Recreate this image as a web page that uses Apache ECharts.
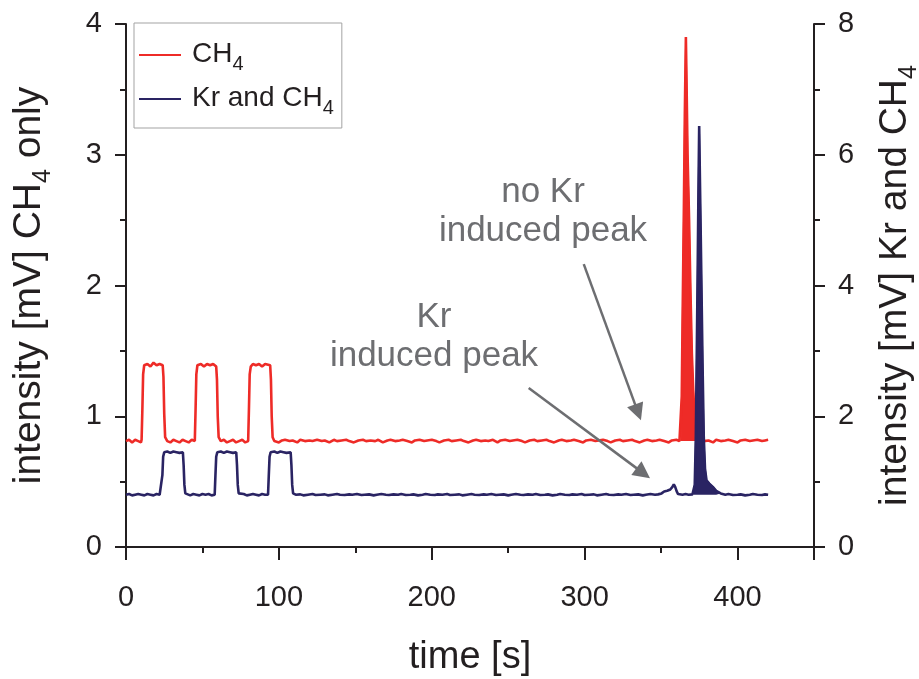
<!DOCTYPE html>
<html><head><meta charset="utf-8">
<script src="https://cdn.jsdelivr.net/npm/echarts@6/dist/echarts.min.js"></script>
<style>html,body{margin:0;padding:0;background:#fff}#c{width:919px;height:679px}</style>
</head><body><div id="c"></div>
<script>
// ---------- data (time [s], intensity [mV]) ----------
const seriesNames = ['CH4', 'Kr and CH4'];
const xTickValues = [0, 100, 200, 300, 400];
const leftTickValues = [0, 1, 2, 3, 4];
const rightTickValues = [0, 2, 4, 6, 8];

// CH4 only (left axis)
const redBefore = [
 [0,0.81],[2,0.82],[4,0.80],[6,0.82],[8,0.81],[9.8,0.80],[10.2,0.82],
 [10.7,1.05],[11.2,1.32],[11.9,1.39],[14,1.40],[16,1.38],[18,1.41],[20,1.39],[22,1.40],[24.0,1.39],
 [24.5,1.30],[25.0,1.02],[25.6,0.84],[27,0.81],[29,0.80],[31,0.82],[33,0.81],[35,0.80],[37,0.82],[39,0.81],[41,0.80],[43,0.82],[45.0,0.81],
 [45.5,1.05],[46.0,1.32],[46.7,1.39],[49,1.40],[51,1.38],[53,1.40],[55,1.39],[57,1.40],[59.0,1.38],
 [59.5,1.28],[60.0,1.00],[60.6,0.84],[62,0.81],[64,0.82],[66,0.80],[68,0.81],[70,0.82],[72,0.80],[74,0.81],[76,0.82],[78,0.80],[79.9,0.81],
 [80.4,1.05],[80.9,1.32],[81.6,1.38],[83,1.40],[85,1.39],[87,1.40],[89,1.38],[91,1.40],[94.3,1.39],
 [94.8,1.28],[95.3,1.00],[95.9,0.84],[97,0.81],[100,0.80],
 [102,0.815],[104,0.82],[107,0.81],[109,0.815],[112,0.80],[114,0.82],[117,0.81],[120,0.815],[122,0.81],[125,0.82],
 [128,0.81],[130,0.815],[133,0.80],[136,0.82],[138,0.81],[141,0.815],[144,0.82],[146,0.81],[149,0.80],[152,0.815],
 [155,0.82],[157,0.81],[160,0.815],[163,0.81],[165,0.82],[168,0.80],[171,0.815],[173,0.82],[176,0.81],[179,0.815],
 [181,0.82],[184,0.81],[187,0.80],[189,0.815],[192,0.82],[195,0.81],[197,0.815],[200,0.82],[203,0.81],[205,0.80],
 [208,0.815],[211,0.82],[213,0.81],[216,0.815],[219,0.82],[221,0.81],[224,0.80],[227,0.815],[229,0.82],[232,0.81],
 [235,0.815],[237,0.81],[240,0.82],[243,0.80],[245,0.815],[248,0.82],[251,0.81],[253,0.815],[256,0.82],[259,0.81],
 [261,0.80],[264,0.815],[267,0.82],[269,0.81],[272,0.815],[275,0.82],[277,0.81],[280,0.80],[283,0.815],[285,0.82],
 [288,0.81],[291,0.815],[293,0.82],[296,0.81],[299,0.80],[301,0.815],[304,0.82],[307,0.81],[309,0.815],[312,0.82],
 [315,0.81],[317,0.80],[320,0.815],[323,0.82],[325,0.81],[328,0.815],[331,0.82],[333,0.81],[336,0.80],[339,0.815],
 [341,0.82],[344,0.81],[347,0.815],[349,0.82],[352,0.81],[355,0.80],[357,0.815],[360,0.82],[362,0.81]
];
const redPeak = [
 [363.0,0.81],[363.5,1.15],[364.0,1.70],[364.5,2.20],[364.9,2.60],[365.5,3.30],[366.2,3.90],
 [366.7,3.50],[367.3,3.00],[367.8,2.75],[368.3,2.50],[369.2,1.95],[370.1,1.48],[371.0,1.20],
 [372.0,0.98],[373.2,0.84],[374.2,0.81]
];
const redAfter = [
 [376,0.82],[378,0.81],[381,0.815],[384,0.80],[386,0.82],[389,0.81],[392,0.815],[394,0.82],[397,0.81],[400,0.80],
 [402,0.815],[405,0.82],[408,0.81],[410,0.815],[413,0.82],[416,0.81],[418,0.815],[420,0.82]
];

// Kr and CH4 (right axis)
const blueBefore = [
 [0,0.80],[2,0.81],[4,0.79],[6,0.80],[8,0.81],[10,0.80],[12,0.79],[14,0.81],[16,0.80],[18,0.79],[20,0.81],[22,0.80],[23.3,0.81],
 [23.8,1.10],[24.3,1.38],[25,1.45],[27,1.46],[29,1.44],[31,1.46],[33,1.45],[35,1.44],[37.2,1.45],
 [37.7,1.25],[38.2,0.95],[38.8,0.82],[40,0.80],[42,0.79],[44,0.81],[46,0.80],[48,0.79],[50,0.81],[52,0.80],[54,0.81],[56,0.79],[58.0,0.80],
 [58.5,1.10],[59.0,1.38],[59.7,1.45],[62,1.46],[64,1.44],[66,1.46],[68,1.45],[70,1.44],[72.1,1.45],
 [72.6,1.25],[73.1,0.95],[73.7,0.82],[75,0.80],[77,0.81],[79,0.79],[81,0.80],[83,0.81],[85,0.80],[87,0.79],[89,0.81],[91,0.80],[92.9,0.80],
 [93.4,1.10],[93.9,1.38],[94.6,1.45],[97,1.46],[99,1.44],[101,1.46],[103,1.45],[105,1.44],[107.7,1.45],
 [108.2,1.25],[108.7,0.95],[109.3,0.82],[111,0.80],
 [114,0.805],[116,0.79],[119,0.80],[122,0.81],[124,0.795],[127,0.80],[130,0.805],[132,0.79],[135,0.80],[138,0.81],
 [140,0.80],[143,0.795],[146,0.805],[148,0.80],[151,0.81],[154,0.795],[156,0.80],[159,0.805],[162,0.79],[164,0.80],
 [167,0.81],[170,0.80],[172,0.795],[175,0.805],[178,0.80],[180,0.81],[183,0.795],[186,0.80],[188,0.805],[191,0.79],
 [194,0.80],[196,0.81],[199,0.80],[202,0.795],[204,0.805],[207,0.80],[210,0.81],[212,0.795],[215,0.80],[218,0.805],
 [220,0.79],[223,0.80],[226,0.81],[228,0.80],[231,0.795],[234,0.805],[236,0.80],[239,0.81],[242,0.795],[244,0.80],
 [247,0.805],[250,0.79],[252,0.80],[255,0.81],[258,0.80],[260,0.795],[263,0.805],[266,0.80],[268,0.81],[271,0.795],
 [274,0.80],[276,0.805],[279,0.79],[282,0.80],[284,0.81],[287,0.80],[290,0.795],[292,0.805],[295,0.80],[298,0.81],
 [300,0.795],[303,0.80],[306,0.805],[308,0.79],[311,0.80],[314,0.81],[316,0.80],[319,0.795],[322,0.805],[324,0.80],
 [327,0.81],[330,0.795],[332,0.80],[335,0.805],[338,0.79],[340,0.80],[343,0.81],[346,0.80],[348,0.805],
 [350.3,0.82],[352,0.85],[354,0.86],[356,0.88],[357.4,0.92],[358.3,0.96],[359.2,0.92],[360.2,0.85],[361.1,0.81],
 [364,0.80],[366,0.81],[368,0.80],[370.5,0.805]
];
const bluePeak = [
 [371.3,0.82],[372.0,0.95],[372.7,1.68],[373.3,2.90],[373.9,4.20],[374.4,5.40],[374.9,6.44],
 [375.4,5.60],[375.9,4.80],[376.4,3.97],[377.1,2.80],[377.9,1.68],[378.7,1.20],[379.7,1.02],
 [381.5,0.97],[383.8,0.92],[386,0.86],[389,0.82]
];
const blueAfter = [
 [392,0.80],[394,0.81],[397,0.795],[400,0.80],[402,0.805],[405,0.79],[408,0.80],[410,0.81],[413,0.80],[416,0.795],[418,0.805],[420,0.80]
];
const redBaseline = 0.81;
const blueBaseline = 0.80;

// annotation arrows (data coords on the left axis): [start, end]
const arrowNoKr = [[299.4, 2.164], [334.9, 1.03]];
const arrowKr = [[263.4, 1.216], [338.3, 0.565]];

// ---------- chart ----------
const FONT = '"Liberation Sans", Arial, Helvetica, sans-serif';
const AX = '#231f20';
const RED = '#ee2b27';
const BLUE = '#2a2463';
const GRAY = '#6d6e71';

const redLine = redBefore.concat(redPeak, redAfter);
const blueLine = blueBefore.concat(bluePeak, blueAfter);

const chart = echarts.init(document.getElementById('c'), null, {renderer: 'canvas'});

const axisLineStyle = {color: AX, width: 2};
const labelStyle = {fontSize: 29, color: AX, fontFamily: FONT};
const titleRich = {
  n: {fontSize: 39, fontFamily: FONT, color: AX, lineHeight: 44, verticalAlign: 'top'},
  s: {fontSize: 25, fontFamily: FONT, color: AX, lineHeight: 25, padding: [21, 0, 0, 0], verticalAlign: 'top'}
};

const option = {
  animation: false,
  backgroundColor: '#ffffff',
  grid: {left: 126, right: 105, top: 24, bottom: 132, containLabel: false, outerBoundsMode: 'none'},
  legend: {
    data: seriesNames,
    orient: 'vertical',
    left: 134, top: 23,
    borderColor: '#a3a3a3', borderWidth: 1,
    padding: [17, 8, 10, 5],
    itemGap: 10,
    itemWidth: 42, itemHeight: 2,
    icon: 'rect',
    selectedMode: false,
    textStyle: {
      fontSize: 28, fontFamily: FONT, color: AX, padding: [0, 0, 0, 6],
      rich: {
        n: {fontSize: 28, fontFamily: FONT, color: AX, lineHeight: 30, verticalAlign: 'top'},
        s: {fontSize: 20, fontFamily: FONT, color: AX, lineHeight: 20, padding: [14, 0, 0, 0], verticalAlign: 'top'}
      }
    },
    formatter: function (name) {
      return name === 'CH4' ? '{n|CH}{s|4}' : '{n|Kr and CH}{s|4}';
    }
  },
  xAxis: [
    {
      type: 'value', min: 0, max: 450, interval: 50, position: 'bottom',
      axisLine: {show: true, onZero: false, lineStyle: axisLineStyle},
      axisTick: {show: true, length: 6, lineStyle: axisLineStyle},
      axisLabel: {show: false},
      splitLine: {show: false}
    },
    {
      type: 'value', min: 0, max: 450, interval: 100, position: 'bottom',
      axisLine: {show: false, onZero: false},
      axisTick: {show: true, length: 13, lineStyle: axisLineStyle},
      axisLabel: Object.assign({margin: 36, formatter: function (v) { return xTickValues.indexOf(v) >= 0 ? String(v) : ''; }}, labelStyle),
      splitLine: {show: false},
      name: 'time [s]', nameLocation: 'middle', nameGap: 92,
      nameTextStyle: {fontSize: 38, fontFamily: FONT, color: AX}
    }
  ],
  yAxis: [
    {
      type: 'value', position: 'left', min: 0, max: 4, interval: 1,
      axisLine: {show: true, onZero: false, lineStyle: axisLineStyle},
      axisTick: {show: true, length: 11, lineStyle: axisLineStyle},
      minorTick: {show: true, splitNumber: 2, length: 6, lineStyle: axisLineStyle},
      axisLabel: Object.assign({margin: 24, formatter: function (v) { return leftTickValues.indexOf(v) >= 0 ? String(v) : ''; }}, labelStyle),
      splitLine: {show: false},
      name: '{n|intensity [mV] CH}{s|4}{n| only}', nameLocation: 'middle', nameRotate: 90, nameGap: 72,
      nameTextStyle: {rich: titleRich}
    },
    {
      type: 'value', position: 'right', min: 0, max: 8, interval: 2,
      axisLine: {show: true, onZero: false, lineStyle: axisLineStyle},
      axisTick: {show: true, length: 11, lineStyle: axisLineStyle},
      minorTick: {show: true, splitNumber: 2, length: 6, lineStyle: axisLineStyle},
      axisLabel: Object.assign({margin: 24, formatter: function (v) { return rightTickValues.indexOf(v) >= 0 ? String(v) : ''; }}, labelStyle),
      splitLine: {show: false},
      name: '{n|intensity [mV] Kr and CH}{s|4}', nameLocation: 'middle', nameRotate: 90, nameGap: 62,
      nameTextStyle: {rich: titleRich}
    }
  ],
  series: [
    {
      name: seriesNames[0], type: 'line', xAxisIndex: 0, yAxisIndex: 0,
      data: redLine, symbol: 'none', showSymbol: false, silent: true,
      color: RED, lineStyle: {color: RED, width: 2.6}, z: 2,
      markLine: {
        silent: true, animation: false,
        symbol: ['none', 'triangle'], symbolSize: 17,
        label: {show: false},
        lineStyle: {color: GRAY, width: 2.5, type: 'solid'},
        emphasis: {disabled: true},
        data: [
          [{coord: arrowNoKr[0]}, {coord: arrowNoKr[1]}],
          [{coord: arrowKr[0]}, {coord: arrowKr[1]}]
        ]
      }
    },
    {
      name: seriesNames[0], type: 'line', xAxisIndex: 0, yAxisIndex: 0,
      data: redPeak, symbol: 'none', showSymbol: false, silent: true,
      color: RED, lineStyle: {color: RED, width: 1.5},
      areaStyle: {color: RED, opacity: 1, origin: redBaseline}, z: 2
    },
    {
      name: seriesNames[1], type: 'line', xAxisIndex: 0, yAxisIndex: 1,
      data: blueLine, symbol: 'none', showSymbol: false, silent: true,
      color: BLUE, lineStyle: {color: BLUE, width: 2.6}, z: 3
    },
    {
      name: seriesNames[1], type: 'line', xAxisIndex: 0, yAxisIndex: 1,
      data: bluePeak, symbol: 'none', showSymbol: false, silent: true,
      color: BLUE, lineStyle: {color: BLUE, width: 1.5},
      areaStyle: {color: BLUE, opacity: 1, origin: blueBaseline}, z: 3
    }
  ],
  graphic: [
    {
      type: 'text', z: 10, silent: true,
      style: {text: 'no Kr\ninduced peak', x: 543, y: 212, align: 'center', textAlign: 'center',
        verticalAlign: 'middle', textVerticalAlign: 'middle',
        font: '35px "Liberation Sans", Arial, sans-serif', fill: GRAY, lineHeight: 39}
    },
    {
      type: 'text', z: 10, silent: true,
      style: {text: 'Kr\ninduced peak', x: 434, y: 337, align: 'center', textAlign: 'center',
        verticalAlign: 'middle', textVerticalAlign: 'middle',
        font: '35px "Liberation Sans", Arial, sans-serif', fill: GRAY, lineHeight: 39}
    }
  ]
};
chart.setOption(option);
</script>
</body></html>
